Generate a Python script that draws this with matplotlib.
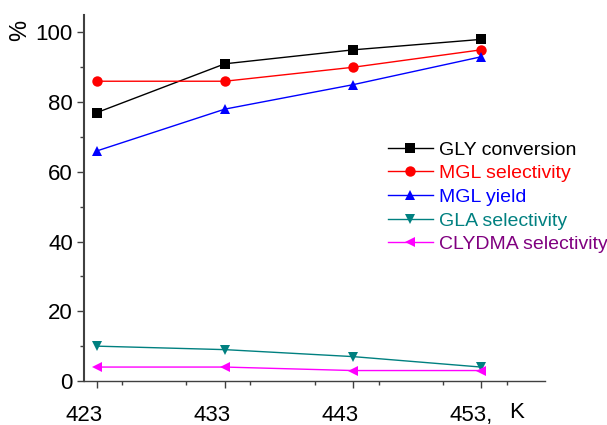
import matplotlib
matplotlib.use("Agg")
import matplotlib.pyplot as plt
from matplotlib.transforms import ScaledTranslation
from matplotlib.ticker import MultipleLocator

plt.rcParams['font.family'] = ['Liberation Sans', 'DejaVu Sans']

# Reaction temperature, K
temps = [423, 433, 443, 453]
tick_labels = ["423", "433", "443", "453,"]

# Percent values per series
gly_conversion = [77, 91, 95, 98]
mgl_selectivity = [86, 86, 90, 95]
mgl_yield = [66, 78, 85, 93]
gla_selectivity = [10, 9, 7, 4]
clydma_selectivity = [4, 4, 3, 3]

series = [
    ("GLY conversion", gly_conversion, "#000000", "s", "#000000", 6.5),
    ("MGL selectivity", mgl_selectivity, "#ff0000", "o", "#ff0000", 7.5),
    ("MGL yield", mgl_yield, "#0000ff", "^", "#0000ff", 7.5),
    ("GLA selectivity", gla_selectivity, "#008080", "v", "#008080", 7.5),
    ("CLYDMA selectivity", clydma_selectivity, "#ff00ff", "<", "#800080", 7.5),
]

fig = plt.figure(figsize=(6.07, 4.25), dpi=100)
ax = fig.add_axes([84 / 607, 1 - 381 / 425, (545 - 84) / 607, (381 - 15) / 425])

for name, vals, color, marker, _, ms in series:
    ax.plot(temps, vals, color=color, lw=1.0, marker=marker, ms=ms,
            markeredgewidth=0, label=name)

ax.set_xlim(422, 458)
ax.set_ylim(0, 105)

for side in ("top", "right"):
    ax.spines[side].set_visible(False)
ax.spines["left"].set_color("#404040")
ax.spines["bottom"].set_color("#404040")
ax.spines["left"].set_linewidth(1.5)
ax.spines["bottom"].set_linewidth(1.0)

ax.set_xticks(temps)
ax.set_xticklabels(tick_labels)
ax.xaxis.set_minor_locator(MultipleLocator(5))
ax.yaxis.set_major_locator(MultipleLocator(20))
ax.yaxis.set_minor_locator(MultipleLocator(10))
ax.tick_params(axis="both", which="major", direction="out", length=5,
               width=1.0, color="#404040", labelsize=16)
ax.tick_params(axis="both", which="minor", direction="out", length=3,
               width=1.0, color="#404040")
ax.tick_params(axis="x", which="major", pad=12)
ax.tick_params(axis="y", which="major", pad=3)

shift = ScaledTranslation(-31 / 100, 0, fig.dpi_scale_trans)
for lbl in ax.get_xticklabels():
    lbl.set_horizontalalignment("left")
    lbl.set_transform(lbl.get_transform() + shift)

fig.text(517 / 607, 1 - 412 / 425, "K", fontsize=16, ha="center", va="center")
fig.text(20 / 607, 1 - 30 / 425, "%", fontsize=17, rotation=90,
         ha="center", va="center")

leg = ax.legend(loc="upper left", bbox_to_anchor=(388 / 607, 1 - 141 / 425),
                bbox_transform=fig.transFigure, frameon=False, fontsize=14,
                borderpad=0, borderaxespad=0, handlelength=2.3,
                handletextpad=0.3, labelspacing=0.31)
for txt, s in zip(leg.get_texts(), series):
    txt.set_color(s[4])

fig.savefig("out.png", dpi=100)
